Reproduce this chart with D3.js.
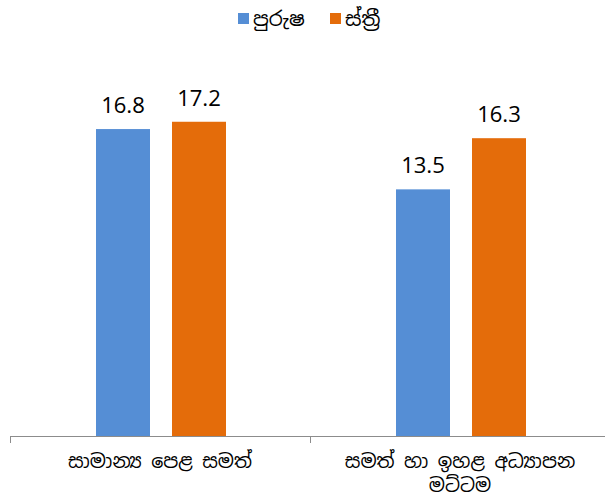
<!DOCTYPE html>
<html>
<head>
<meta charset="utf-8">
<script src="https://cdn.jsdelivr.net/npm/d3@7"></script>
<style>
	body { margin: 0; background: #fff; }
	text { font-family: "Noto Sans Sinhala", "Iskoola Pota", Carlito, "Open Sans", "Liberation Sans", sans-serif; }
</style>
</head>
<body>
<svg></svg>
<script>
const svgWidth = 605;
const svgHeight = 500;

const categories = [["සාමාන්‍ය පෙළ සමත්"], ["සමත් හා ඉහළ අධ්‍යාපන", "මට්ටම"]];
const seriesNames = ["පුරුෂ", "ස්ත්‍රී"];
const male = [16.8, 13.5];
const female = [17.2, 16.3];
const colors = ["#558ed5", "#e46c0a"];

const svg = d3.select("svg")
	.attr("width", svgWidth)
	.attr("height", svgHeight);

const left = 10, right = 610, baseY = 436;

const xScale = d3.scaleBand()
	.domain([0, 1])
	.range([left, right]);
// bars inside one category
const inner = d3.scaleBand()
	.domain([0, 1])
	.range([86, 216])
	.paddingInner(22 / 76)
	.paddingOuter(0);
const yScale = d3.scaleLinear()
	.domain([0, 20])
	.range([baseY, baseY - 365.4]);

const series = [male, female];

// bars + value labels
series.forEach((vals, s) => {
	svg.selectAll(".bar" + s)
		.data(vals)
		.enter()
		.append("rect")
		.attr("x", (d, i) => xScale(i) + inner(s))
		.attr("width", inner.bandwidth())
		.attr("y", d => yScale(d))
		.attr("height", d => baseY - yScale(d))
		.attr("fill", colors[s]);

	svg.selectAll(".lbl" + s)
		.data(vals)
		.enter()
		.append("text")
		.attr("x", (d, i) => xScale(i) + inner(s) + inner.bandwidth() / 2)
		.attr("y", d => yScale(d) - 16)
		.attr("text-anchor", "middle")
		.attr("font-size", "22px")
		.attr("fill", "#000")
		.text(d => d.toFixed(1));
});

// axis line and ticks
svg.append("line")
	.attr("x1", left).attr("x2", 605)
	.attr("y1", baseY + 0.5).attr("y2", baseY + 0.5)
	.attr("stroke", "#8c8c8c");
[0, 1, 2].forEach(i => {
	let x = left + i * xScale.bandwidth();
	svg.append("line")
		.attr("x1", x + 0.5).attr("x2", x + 0.5)
		.attr("y1", baseY).attr("y2", baseY + 7)
		.attr("stroke", "#8c8c8c");
});

// category labels
categories.forEach((lines, i) => {
	let cx = xScale(i) + xScale.bandwidth() / 2;
	let t = svg.append("text")
		.attr("x", cx)
		.attr("y", 468)
		.attr("text-anchor", "middle")
		.attr("font-size", "19px")
		.attr("fill", "#000");
	lines.forEach((l, j) => {
		t.append("tspan")
			.attr("x", cx)
			.attr("dy", j == 0 ? 0 : "1.25em")
			.text(l);
	});
});

// legend
const legendX = [238, 330];
seriesNames.forEach((n, s) => {
	svg.append("rect")
		.attr("x", legendX[s]).attr("y", 13)
		.attr("width", 11).attr("height", 11)
		.attr("fill", colors[s]);
	svg.append("text")
		.attr("x", legendX[s] + 15).attr("y", 26)
		.attr("font-size", "20px")
		.attr("fill", "#000")
		.text(n);
});
</script>
</body>
</html>
